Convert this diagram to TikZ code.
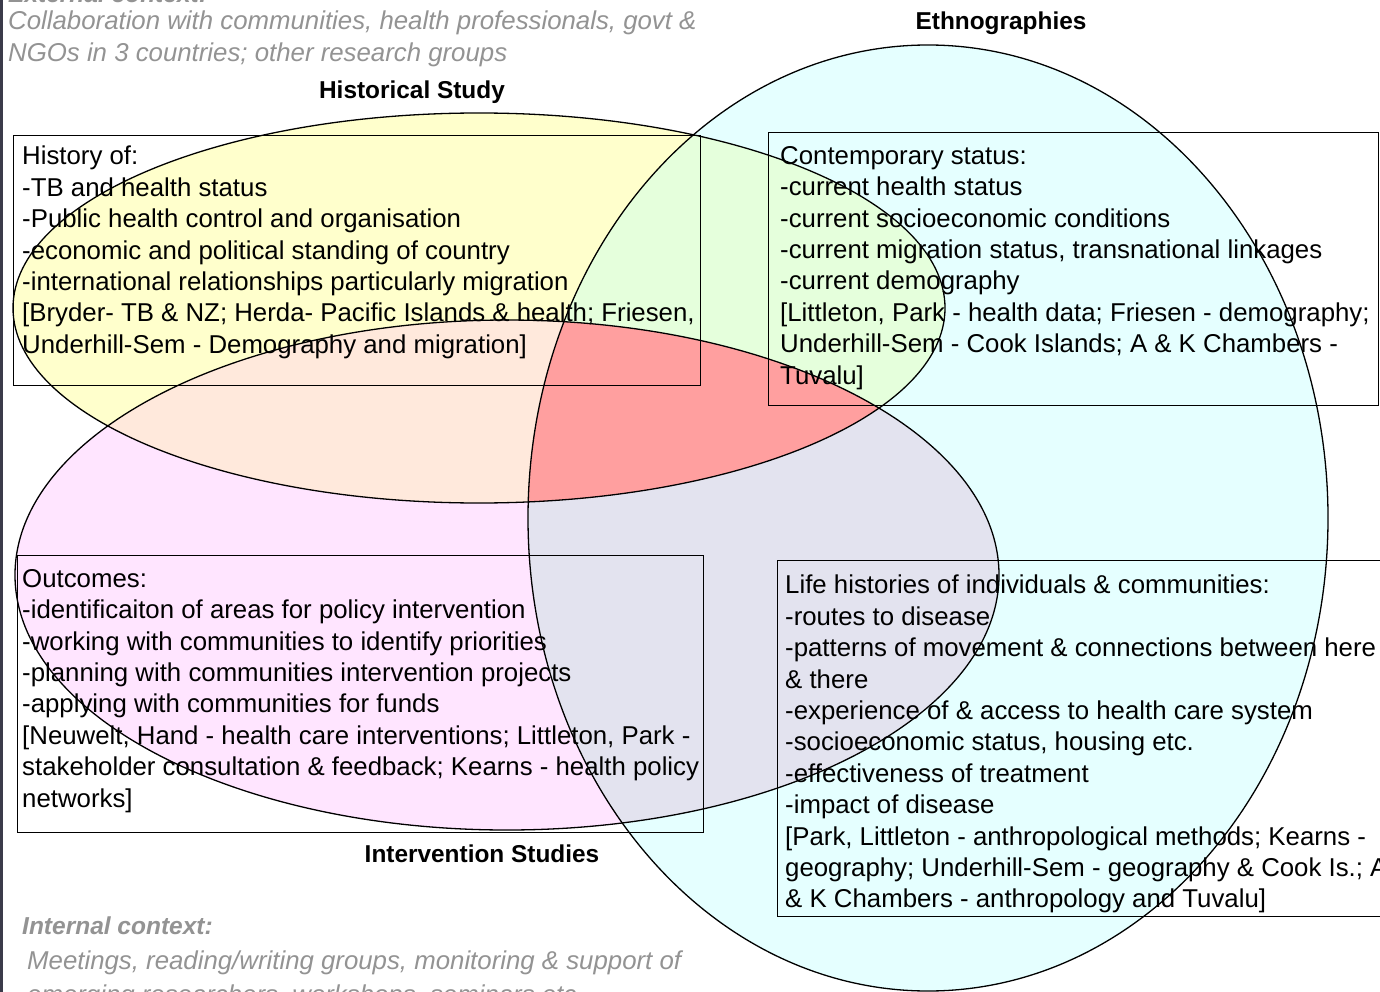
\documentclass[tikz,border=0pt]{standalone}
\usepackage{fontspec}
\setmainfont{Liberation Sans}
\usetikzlibrary{positioning}
\definecolor{histfill}{HTML}{FFFFCC}
\definecolor{ethnofill}{HTML}{E5FFFF}
\definecolor{interfill}{HTML}{FFE5FF}
\definecolor{histethno}{HTML}{E5FFDC}
\definecolor{histinter}{HTML}{FFE9DC}
\definecolor{ethnointer}{HTML}{E3E3EF}
\definecolor{allthree}{HTML}{FF9F9F}
\definecolor{contextgray}{HTML}{939393}
\definecolor{edgestrip}{HTML}{3B3B4A}
\tikzset{
  studybox/.style={draw=black,line width=1.2pt,inner sep=0pt,anchor=north west},
  boxtext/.style={anchor=north west,align=left,inner sep=0pt,
    font=\fontsize{25.8}{31.4}\selectfont},
  studylabel/.style={anchor=base,inner sep=0pt,font=\fontsize{24.4}{28}\selectfont\bfseries},
  contexttext/.style={anchor=base west,inner sep=0pt,text=contextgray,
    font=\fontsize{25.8}{32}\selectfont\itshape}
}
\def\histpath{(479,308) ellipse [x radius=466pt, y radius=195pt]}
\def\interpath{(507,575) ellipse [x radius=492pt, y radius=255pt]}
\def\ethnopath{(928,518) ellipse [x radius=400pt, y radius=473pt]}

\begin{document}
\begin{tikzpicture}[x=1pt,y=-1pt]
        \useasboundingbox (0,0) rectangle (1380,992);
        \fill[white] (0,0) rectangle (1380,992);
        \fill[edgestrip] (0,0) rectangle (3,992);

        \fill[histfill] \histpath;
        \fill[interfill] \interpath;
        \fill[ethnofill] \ethnopath;
        \begin{scope}
            \clip \histpath;
            \fill[histinter] \interpath;
            \fill[histethno] \ethnopath;
        \end{scope}
        \begin{scope}
            \clip \interpath;
            \clip \ethnopath;
            \fill[ethnointer] (0,0) rectangle (1380,992);
            \fill[allthree] \histpath;
        \end{scope}
        \begin{scope}[line width=1.3pt]
            \draw \histpath;
            \draw \interpath;
            \draw \ethnopath;
        \end{scope}

        \node[studybox, minimum width=687pt, minimum height=250pt] (histbox) at (13,135) {};
        \node[studybox, minimum width=610pt, minimum height=273pt] (ethnobox) at (768,132) {};
        \node[studybox, minimum width=686pt, minimum height=277pt] (interbox) at (17,555) {};
        \node[studybox, minimum width=620pt, minimum height=356pt] (lifebox) at (777,560) {};

        \node[boxtext] (histtext) at ([shift={(9,11)}]histbox.north west) {History of:\\
            -TB and health status\\
            -Public health control and organisation\\
            -economic and political standing of country\\
            -international relationships particularly migration\\
            {}[Bryder- TB \& NZ; Herda- Pacific Islands \& health; Friesen,\\
            Underhill-Sem - Demography and migration]};
        \node[boxtext] (ethnotext) at ([shift={(12,14)}]ethnobox.north west) {Contemporary status:\\
            -current health status\\
            -current socioeconomic conditions\\
            -current migration status, transnational linkages\\
            -current demography\\
            {}[Littleton, Park - health data; Friesen - demography;\\
            Underhill-Sem - Cook Islands; A \& K Chambers -\\
            Tuvalu]};
        \node[boxtext] (intertext) at ([shift={(5,14)}]interbox.north west) {Outcomes:\\
            -identificaiton of areas for policy intervention\\
            -working with communities to identify priorities\\
            -planning with communities intervention projects\\
            -applying with communities for funds\\
            {}[Neuwelt, Hand - health care interventions; Littleton, Park -\\
            stakeholder consultation \& feedback; Kearns - health policy\\
            networks]};
        \node[boxtext] (lifetext) at ([shift={(8,15)}]lifebox.north west) {Life histories of individuals \& communities:\\
            -routes to disease\\
            -patterns of movement \& connections between here\\
            \& there\\
            -experience of \& access to health care system\\
            -socioeconomic status, housing etc.\\
            -effectiveness of treatment\\
            -impact of disease\\
            {}[Park, Littleton - anthropological methods; Kearns -\\
            geography; Underhill-Sem - geography \& Cook Is.; A\\
            \& K Chambers - anthropology and Tuvalu]};

        \node[studylabel] (histlabel) at (412,99) {Historical Study};
        \node[studylabel] (ethnolabel) at (1001,30) {Ethnographies};
        \node[studylabel] (interlabel) at (482,862) {Intervention Studies};

        \node[contexttext, font=\fontsize{24.5}{30}\selectfont\bfseries\itshape] (extctx) at (8,3) {External context:};
        \node[contexttext] (extline1) at (8,30) {Collaboration with communities, health professionals, govt \&};
        \node[contexttext] (extline2) at (8,62) {NGOs in 3 countries; other research groups};
        \node[contexttext, font=\fontsize{24.5}{30}\selectfont\bfseries\itshape] (intctx) at (22,934) {Internal context:};
        \node[contexttext] (intline1) at (27,969) {Meetings, reading/writing groups, monitoring \& support of};
        \node[contexttext] (intline2) at (27,1003) {emerging researchers, workshops, seminars etc.};
\end{tikzpicture}
\end{document}
